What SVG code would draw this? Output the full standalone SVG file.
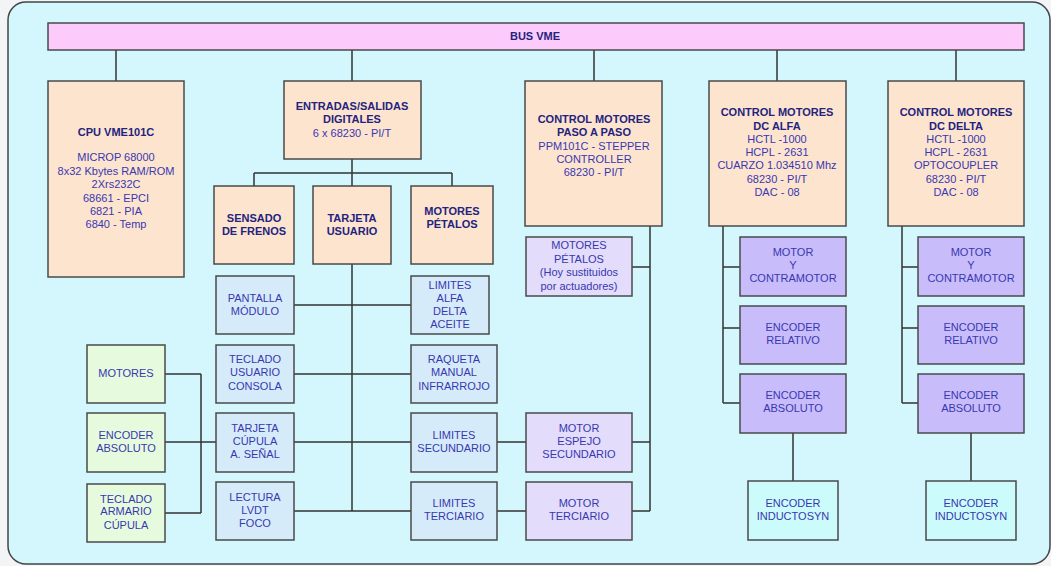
<svg xmlns="http://www.w3.org/2000/svg" width="1051" height="566" viewBox="0 0 1051 566">
<style>
.box{stroke:#4a4a4a;stroke-width:1.5}
.peach{fill:#fde4cf}
.pink{fill:#fdcbfb}
.blue{fill:#d6ebfa}
.green{fill:#e6fbdd}
.lav{fill:#e3dcfb}
.purp{fill:#c9bcfb}
.cyan{fill:#ccfbfb}
text{font-family:"Liberation Sans",Arial,sans-serif;font-size:11px;text-anchor:middle;fill:#3838b0}
.b{font-weight:bold;fill:#23237e}
.conn line{stroke:#333;stroke-width:1.5}
</style>
<rect x="0" y="0" width="1051" height="566" fill="#f3f4f6"/>
<rect x="8" y="2" width="1042" height="562" rx="18" fill="#d3f7fc" stroke="#444" stroke-width="1.5"/>

<g class="conn">
<line x1="116" y1="50" x2="116" y2="81"/>
<line x1="352" y1="50" x2="352" y2="81"/>
<line x1="594" y1="50" x2="594" y2="81"/>
<line x1="777" y1="50" x2="777" y2="81"/>
<line x1="956" y1="50" x2="956" y2="81"/>
<line x1="352" y1="159" x2="352" y2="186"/>
<line x1="254" y1="173" x2="452" y2="173"/>
<line x1="254" y1="173" x2="254" y2="186"/>
<line x1="452" y1="173" x2="452" y2="186"/>
<line x1="352" y1="264" x2="352" y2="511"/>
<line x1="294" y1="305" x2="411" y2="305"/>
<line x1="294" y1="374" x2="411" y2="374"/>
<line x1="294" y1="442" x2="411" y2="442"/>
<line x1="294" y1="511" x2="411" y2="511"/>
<line x1="497" y1="442" x2="526" y2="442"/>
<line x1="497" y1="511" x2="526" y2="511"/>
<line x1="165" y1="374" x2="201" y2="374"/>
<line x1="201" y1="374" x2="201" y2="513"/>
<line x1="165" y1="513" x2="201" y2="513"/>
<line x1="165" y1="442" x2="216" y2="442"/>
<line x1="650" y1="226" x2="650" y2="511"/>
<line x1="632" y1="267" x2="650" y2="267"/>
<line x1="632" y1="442" x2="650" y2="442"/>
<line x1="632" y1="511" x2="650" y2="511"/>
<line x1="723" y1="226" x2="723" y2="403"/>
<line x1="723" y1="267" x2="740" y2="267"/>
<line x1="723" y1="328" x2="740" y2="328"/>
<line x1="723" y1="403" x2="740" y2="403"/>
<line x1="793" y1="433" x2="793" y2="481"/>
<line x1="902" y1="226" x2="902" y2="403"/>
<line x1="902" y1="267" x2="918" y2="267"/>
<line x1="902" y1="328" x2="918" y2="328"/>
<line x1="902" y1="403" x2="918" y2="403"/>
<line x1="971" y1="433" x2="971" y2="481"/>
</g>

<g id="bus"><rect class="box pink" x="48" y="23" width="976" height="27"/><text class="b" x="535" y="40">BUS VME</text></g>

<g id="cpu"><rect class="box peach" x="48" y="81" width="136" height="196"/>
<text class="b" x="116" y="136">CPU VME101C</text>
<text x="116" y="161">MICROP 68000</text>
<text x="116" y="175">8x32 Kbytes RAM/ROM</text>
<text x="116" y="188">2Xrs232C</text>
<text x="116" y="202">68661 - EPCI</text>
<text x="116" y="215">6821 - PIA</text>
<text x="116" y="228">6840 - Temp</text></g>

<g id="entradas"><rect class="box peach" x="284" y="81" width="137" height="78"/>
<text class="b" x="352" y="110">ENTRADAS/SALIDAS</text>
<text class="b" x="352" y="123">DIGITALES</text>
<text x="352" y="137">6 x 68230 - PI/T</text></g>

<g id="paso"><rect class="box peach" x="525" y="81" width="137" height="145"/>
<text class="b" x="594" y="123">CONTROL MOTORES</text>
<text class="b" x="594" y="136">PASO A PASO</text>
<text x="594" y="150">PPM101C - STEPPER</text>
<text x="594" y="163">CONTROLLER</text>
<text x="594" y="176">68230 - PI/T</text></g>

<g id="alfa"><rect class="box peach" x="709" y="81" width="137" height="145"/>
<text class="b" x="777" y="116">CONTROL MOTORES</text>
<text class="b" x="777" y="130">DC ALFA</text>
<text x="777" y="143">HCTL -1000</text>
<text x="777" y="156">HCPL - 2631</text>
<text x="777" y="169">CUARZO 1.034510 Mhz</text>
<text x="777" y="183">68230 - PI/T</text>
<text x="777" y="196">DAC - 08</text></g>

<g id="delta"><rect class="box peach" x="888" y="81" width="136" height="145"/>
<text class="b" x="956" y="116">CONTROL MOTORES</text>
<text class="b" x="956" y="130">DC DELTA</text>
<text x="956" y="143">HCTL -1000</text>
<text x="956" y="156">HCPL - 2631</text>
<text x="956" y="169">OPTOCOUPLER</text>
<text x="956" y="183">68230 - PI/T</text>
<text x="956" y="196">DAC - 08</text></g>

<g id="sensado"><rect class="box peach" x="214" y="186" width="80" height="78"/>
<text class="b" x="254" y="222">SENSADO</text>
<text class="b" x="254" y="235">DE FRENOS</text></g>

<g id="tarjeta-usuario"><rect class="box peach" x="313" y="186" width="78" height="78"/>
<text class="b" x="352" y="222">TARJETA</text>
<text class="b" x="352" y="235">USUARIO</text></g>

<g id="motores-petalos"><rect class="box peach" x="411" y="186" width="82" height="78"/>
<text class="b" x="452" y="215">MOTORES</text>
<text class="b" x="452" y="228">PÉTALOS</text></g>

<g id="pantalla"><rect class="box blue" x="216" y="276" width="78" height="58"/>
<text x="255" y="302">PANTALLA</text>
<text x="255" y="315">MÓDULO</text></g>

<g id="limites-alfa"><rect class="box blue" x="411" y="276" width="78" height="58"/>
<text x="450" y="289">LIMITES</text>
<text x="450" y="302">ALFA</text>
<text x="450" y="315">DELTA</text>
<text x="450" y="328">ACEITE</text></g>

<g id="teclado-usuario"><rect class="box blue" x="216" y="345" width="78" height="58"/>
<text x="255" y="363">TECLADO</text>
<text x="255" y="376">USUARIO</text>
<text x="255" y="390">CONSOLA</text></g>

<g id="raqueta"><rect class="box blue" x="411" y="345" width="86" height="58"/>
<text x="454" y="363">RAQUETA</text>
<text x="454" y="376">MANUAL</text>
<text x="454" y="390">INFRARROJO</text></g>

<g id="tarjeta-cupula"><rect class="box blue" x="216" y="413" width="78" height="59"/>
<text x="255" y="432">TARJETA</text>
<text x="255" y="445">CÚPULA</text>
<text x="255" y="458">A. SEÑAL</text></g>

<g id="limites-sec"><rect class="box blue" x="411" y="413" width="86" height="59"/>
<text x="454" y="439">LIMITES</text>
<text x="454" y="452">SECUNDARIO</text></g>

<g id="lectura"><rect class="box blue" x="216" y="482" width="78" height="58"/>
<text x="255" y="501">LECTURA</text>
<text x="255" y="514">LVDT</text>
<text x="255" y="527">FOCO</text></g>

<g id="limites-terc"><rect class="box blue" x="411" y="482" width="86" height="58"/>
<text x="454" y="507">LIMITES</text>
<text x="454" y="520">TERCIARIO</text></g>

<g id="motores"><rect class="box green" x="87" y="345" width="78" height="58"/>
<text x="126" y="377">MOTORES</text></g>

<g id="encoder-abs-green"><rect class="box green" x="87" y="413" width="78" height="59"/>
<text x="126" y="439">ENCODER</text>
<text x="126" y="452">ABSOLUTO</text></g>

<g id="teclado-armario"><rect class="box green" x="87" y="484" width="78" height="58"/>
<text x="126" y="503">TECLADO</text>
<text x="126" y="515">ARMARIO</text>
<text x="126" y="529">CÚPULA</text></g>

<g id="motores-petalos-act"><rect class="box lav" x="526" y="237" width="106" height="59"/>
<text x="579" y="249">MOTORES</text>
<text x="579" y="263">PÉTALOS</text>
<text x="579" y="276">(Hoy sustituidos</text>
<text x="579" y="290">por actuadores)</text></g>

<g id="motor-espejo"><rect class="box lav" x="526" y="413" width="106" height="59"/>
<text x="579" y="432">MOTOR</text>
<text x="579" y="445">ESPEJO</text>
<text x="579" y="458">SECUNDARIO</text></g>

<g id="motor-terciario"><rect class="box lav" x="526" y="482" width="106" height="58"/>
<text x="579" y="507">MOTOR</text>
<text x="579" y="520">TERCIARIO</text></g>

<g id="alfa-motor"><rect class="box purp" x="740" y="237" width="106" height="59"/>
<text x="793" y="256">MOTOR</text>
<text x="793" y="269">Y</text>
<text x="793" y="282">CONTRAMOTOR</text></g>

<g id="alfa-enc-rel"><rect class="box purp" x="740" y="306" width="106" height="58"/>
<text x="793" y="331">ENCODER</text>
<text x="793" y="344">RELATIVO</text></g>

<g id="alfa-enc-abs"><rect class="box purp" x="740" y="374" width="106" height="59"/>
<text x="793" y="399">ENCODER</text>
<text x="793" y="412">ABSOLUTO</text></g>

<g id="alfa-inductosyn"><rect class="box cyan" x="748" y="481" width="90" height="59"/>
<text x="793" y="507">ENCODER</text>
<text x="793" y="520">INDUCTOSYN</text></g>

<g id="delta-motor"><rect class="box purp" x="918" y="237" width="106" height="59"/>
<text x="971" y="256">MOTOR</text>
<text x="971" y="269">Y</text>
<text x="971" y="282">CONTRAMOTOR</text></g>

<g id="delta-enc-rel"><rect class="box purp" x="918" y="306" width="106" height="58"/>
<text x="971" y="331">ENCODER</text>
<text x="971" y="344">RELATIVO</text></g>

<g id="delta-enc-abs"><rect class="box purp" x="918" y="374" width="106" height="59"/>
<text x="971" y="399">ENCODER</text>
<text x="971" y="412">ABSOLUTO</text></g>

<g id="delta-inductosyn"><rect class="box cyan" x="926" y="481" width="90" height="59"/>
<text x="971" y="507">ENCODER</text>
<text x="971" y="520">INDUCTOSYN</text></g>
</svg>
